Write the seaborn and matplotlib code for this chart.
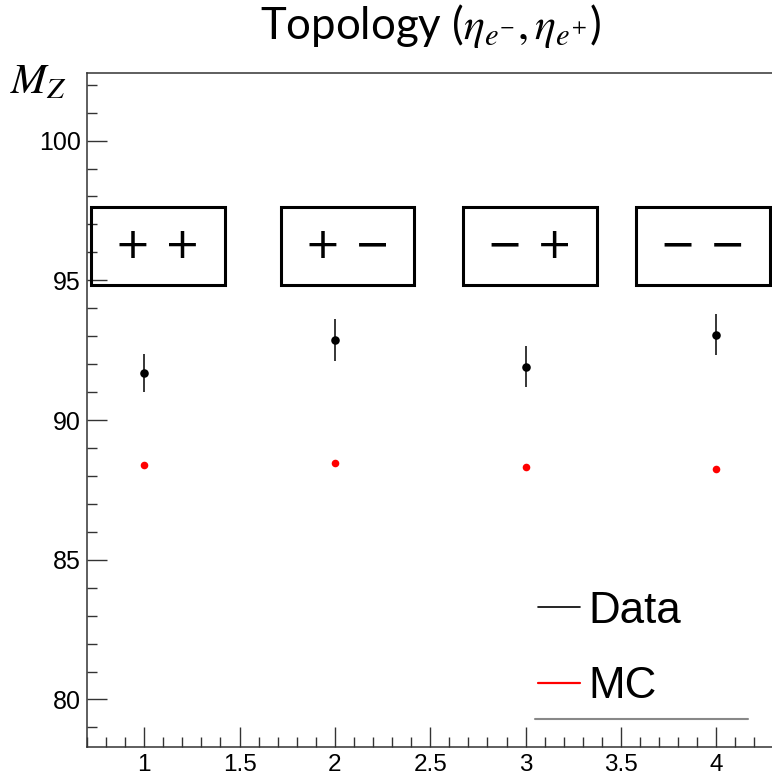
import pandas as pd
import matplotlib
matplotlib.use("Agg")
import matplotlib.pyplot as plt
import seaborn as sns
from matplotlib.patches import Rectangle
from matplotlib.lines import Line2D
from matplotlib.ticker import MultipleLocator

# ------------------------------------------
# data
# ------------------------------------------
topology = [1, 2, 3, 4]
topology_labels = ["+ +", "+ \u2212", "\u2212 +", "\u2212 \u2212"]
data_mz = [91.69, 92.86, 91.91, 93.05]
data_err = [0.69, 0.75, 0.73, 0.74]
mc_mz = [88.39, 88.46, 88.32, 88.26]

df_data = pd.DataFrame({"topology": topology, "mz": data_mz, "err": data_err})
df_mc = pd.DataFrame({"topology": topology, "mz": mc_mz})

# ------------------------------------------
# style
# ------------------------------------------
sns.set_style("ticks")
plt.rcParams['font.family'] = ['Liberation Sans', 'DejaVu Sans']
plt.rcParams['mathtext.fontset'] = 'stix'
plt.rcParams['text.color'] = 'black'

fig = plt.figure(figsize=(7.72, 7.78), dpi=100)
ax = fig.add_axes([87 / 772, 1 - 747 / 778, 686.5 / 772, 674.3 / 778])

# points
ax.errorbar(df_data["topology"], df_data["mz"], yerr=df_data["err"], fmt="none",
            ecolor="black", elinewidth=1.1, capsize=0, zorder=2)
sns.scatterplot(data=df_data, x="topology", y="mz", color="black", s=38,
                linewidth=0, ax=ax, zorder=3)
sns.scatterplot(data=df_mc, x="topology", y="mz", color="red", s=30,
                linewidth=0, ax=ax, zorder=3)

ax.set_xlim(0.7, 4.3)
ax.set_ylim(78.3, 102.43)
ax.xaxis.set_major_locator(MultipleLocator(0.5))
ax.xaxis.set_minor_locator(MultipleLocator(0.1))
ax.yaxis.set_major_locator(MultipleLocator(5))
ax.yaxis.set_minor_locator(MultipleLocator(1))
ax.xaxis.set_major_formatter(matplotlib.ticker.FormatStrFormatter('%g'))
ax.yaxis.set_major_formatter(matplotlib.ticker.FormatStrFormatter('%g'))

ax.tick_params(which='both', direction='in', color='#333333', width=1.0,
               top=False, right=False, labelcolor='black')
ax.tick_params(which='major', length=14.4)
ax.tick_params(which='minor', length=7.2)
ax.tick_params(axis='y', labelsize=18, pad=4.3)
ax.tick_params(axis='x', labelsize=17.5, pad=5)

for side in ['left', 'bottom', 'top']:
    ax.spines[side].set_color('#333333')
    ax.spines[side].set_linewidth(1.1)
ax.spines['right'].set_visible(False)

ax.set_xlabel("")
ax.set_ylabel(r"$M_Z$", fontsize=31, rotation=0, ha='left', va='baseline',
              color='black')
ax.yaxis.set_label_coords(-0.112, 0.970)

ax.set_title(r"Topology ($\eta_{e^{-}}, \eta_{e^{+}}$)", fontsize=31.5,
             family=['Lato', 'DejaVu Sans'], color='black', pad=24)

# topology boxes (axes fraction)
box_left = [0.0058, 0.2822, 0.5481, 0.7997]
box_w = 0.1945
box_bottom, box_h = 0.6851, 0.1162
for x0, lab in zip(box_left, topology_labels):
    ax.add_patch(Rectangle((x0, box_bottom), box_w, box_h, transform=ax.transAxes,
                           fill=False, edgecolor='black', linewidth=2.2, zorder=4))
    ax.text(x0 + box_w / 2, box_bottom + box_h / 2, lab, transform=ax.transAxes,
            ha='center', va='center', fontsize=31, family=['DejaVu Sans'],
            color='black')

# legend
handles = [Line2D([], [], color='black', lw=1.2), Line2D([], [], color='red', lw=1.6)]
ax.legend(handles, ["Data", "MC"], loc='upper left', bbox_to_anchor=(0.657, 0.2319),
          frameon=False, fontsize=31.6, handlelength=0.95, handletextpad=0.2,
          labelspacing=0.79, borderpad=0, borderaxespad=0, labelcolor='black')
ax.add_line(Line2D([0.6526, 0.9629], [0.042, 0.042], transform=ax.transAxes,
                   color='#888888', linewidth=1.5))

plt.savefig("out.png", dpi=100)
